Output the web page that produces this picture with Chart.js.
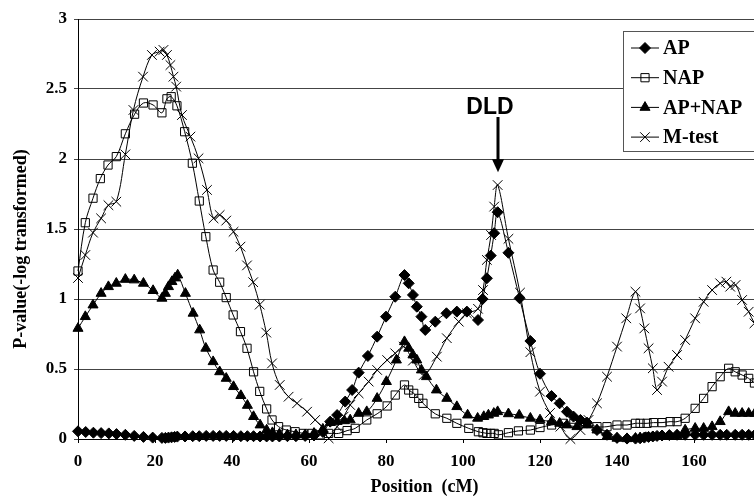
<!DOCTYPE html>
<html>
<head>
<meta charset="utf-8">
<script src="https://cdn.jsdelivr.net/npm/chart.js@4.4.0/dist/chart.umd.min.js"></script>
<style>
  html, body { margin: 0; padding: 0; background: #fff; overflow: hidden; }
  #wrap { width: 754px; height: 496px; overflow: hidden; }
  canvas { display: block; }
</style>
</head>
<body>
<div id="wrap"><canvas id="chart" width="800" height="496" style="width:800px;height:496px"></canvas></div>
<script>
// values (position in cM, -log10 p)
const apPos = [0, 2, 4, 6, 8, 10, 12.3, 14.6, 17, 19.4, 21.8, 22.7, 23.5, 24.3, 25.1, 25.8, 27.8, 29.8, 31.5, 33.3,
  35.1, 36.8, 38.5, 40.4, 42.3, 44, 45.6, 47.3, 49, 50.5, 52.3, 54.4, 56.6, 59, 61.3, 63.6, 65.5, 67.3, 69.4, 71.2,
  72.9, 75.3, 77.7, 80, 82.4, 84.8, 85.9, 87, 88, 89.2, 90.2, 92.8, 95.7, 98.4, 101, 103.9, 105.1, 106.2, 107.2, 108.1,
  109, 111.8, 114.7, 117.5, 120, 123, 125.1, 127, 128.7, 130.5, 132.2, 134.8, 137.4, 140, 142.6, 144.8, 146, 147.1,
  148.2, 149.3, 150.4, 151.7, 153.6, 155.6, 157.7, 160.3, 162.5, 164.7, 166.8, 168.5, 170.7, 172.5, 174.2, 175.8, 177.5];
const apVal = [0.055, 0.05, 0.045, 0.042, 0.04, 0.035, 0.03, 0.022, 0.015, 0.01, 0.008, 0.008, 0.01, 0.012, 0.015, 0.017, 0.018, 0.02, 0.02, 0.022,
  0.022, 0.022, 0.022, 0.022, 0.02, 0.02, 0.02, 0.018, 0.018, 0.018, 0.018, 0.02, 0.02, 0.022, 0.025, 0.05, 0.124, 0.171, 0.267, 0.35,
  0.474, 0.593, 0.731, 0.874, 1.016, 1.171, 1.112, 1.029, 0.945, 0.874, 0.779, 0.838, 0.898, 0.91, 0.91, 0.85, 1.0, 1.148, 1.31, 1.47,
  1.62, 1.33, 1.005, 0.70, 0.466, 0.307, 0.255, 0.195, 0.16, 0.136, 0.117, 0.064, 0.03, 0.008, 0.003, 0.003, 0.005, 0.01,
  0.015, 0.018, 0.022, 0.025, 0.028, 0.03, 0.03, 0.03, 0.03, 0.03, 0.03, 0.03, 0.03, 0.03, 0.03, 0.03, 0.03];

const napPos = [0, 1.9, 3.9, 5.8, 7.8, 9.95, 12.3, 14.7, 17, 19.5, 21.8, 23.1, 24.2, 25.7, 27.7, 29.7, 31.5, 33.2, 35.1, 36.8,
  38.5, 40.3, 42.2, 43.9, 45.6, 47.2, 49, 50.4, 52.1, 54.1, 56.4, 58.6, 60.8, 62.9, 65.1, 67.7, 69.9, 72, 75, 77.7,
  80.3, 82.4, 84.8, 85.9, 87.2, 88.5, 89.6, 92.8, 95.8, 98.4, 101.5, 104, 105.2, 106.2, 107.2, 108.1, 109.2, 111.8, 114.4, 117.5,
  120, 123, 126, 128.8, 131.8, 134.8, 137.4, 140, 142.6, 144.8, 146, 147.8, 149.5, 151.7, 153.8, 155.6, 157.7, 160.3, 162.5, 164.7,
  166.8, 169, 170.7, 172.5, 174.2, 175.7, 177.5, 179.5];
const napVal = [1.2, 1.545, 1.72, 1.86, 1.957, 2.017, 2.18, 2.32, 2.40, 2.386, 2.33, 2.43, 2.445, 2.38, 2.195, 1.97, 1.70, 1.445, 1.207, 1.12,
  1.01, 0.886, 0.767, 0.648, 0.48, 0.34, 0.215, 0.136, 0.088, 0.064, 0.052, 0.04, 0.04, 0.03, 0.04, 0.04, 0.06, 0.076, 0.136, 0.18,
  0.236, 0.314, 0.386, 0.35, 0.326, 0.29, 0.255, 0.18, 0.148, 0.112, 0.076, 0.052, 0.045, 0.04, 0.04, 0.04, 0.03, 0.045, 0.058, 0.064,
  0.082, 0.1, 0.112, 0.112, 0.112, 0.088, 0.088, 0.1, 0.1, 0.112, 0.112, 0.112, 0.117, 0.117, 0.124, 0.124, 0.148, 0.219, 0.29, 0.374,
  0.445, 0.505, 0.48, 0.457, 0.433, 0.40, 0.38, 0.35];

const bothPos = [0, 1.9, 3.9, 6, 7.9, 9.95, 12.3, 14.6, 17, 19.5, 21.8, 22.7, 23.5, 24.4, 25.2, 25.9, 27.9, 29.9, 31.6, 33.2,
  35.1, 36.8, 38.5, 40.4, 42.3, 44, 45.6, 47.3, 49, 50.5, 52.3, 54.4, 56.6, 59, 61.3, 63.6, 65.5, 67.3, 69.2, 70.7,
  72.9, 75, 77.7, 80.1, 82.7, 84.8, 85.9, 87, 88, 89.2, 90.5, 93.1, 95.8, 98.4, 101.2, 103.8, 105.4, 106.6, 108, 109,
  111.8, 114.6, 117.5, 120, 123, 125.1, 127, 129.6, 132.2, 134.8, 137.4, 140, 142.6, 144.8, 146, 147.5, 149.3, 151.7, 153.6, 155.6,
  157.7, 160.3, 162.5, 164.7, 166.8, 169, 170.7, 172.5, 174.2, 175.8, 177.5, 179.5];
const bothVal = [0.79, 0.874, 0.957, 1.04, 1.088, 1.112, 1.14, 1.136, 1.112, 1.06, 1.005, 1.04, 1.088, 1.124, 1.15, 1.171, 1.04, 0.898, 0.779, 0.648,
  0.552, 0.48, 0.433, 0.374, 0.31, 0.24, 0.16, 0.1, 0.064, 0.045, 0.035, 0.03, 0.03, 0.03, 0.04, 0.07, 0.117, 0.125, 0.13, 0.136,
  0.183, 0.195, 0.29, 0.41, 0.564, 0.695, 0.648, 0.6, 0.564, 0.493, 0.445, 0.35, 0.29, 0.231, 0.171, 0.148, 0.16, 0.171, 0.183, 0.195,
  0.18, 0.17, 0.148, 0.136, 0.124, 0.112, 0.1, 0.088, 0.1, 0.064, 0.017, 0.005, 0.002, 0.005, 0.008, 0.01, 0.015, 0.02, 0.02, 0.025,
  0.064, 0.076, 0.076, 0.088, 0.124, 0.195, 0.183, 0.183, 0.183, 0.183, 0.18, 0.18];

const mPos = [0, 1.9, 3.9, 6, 7.9, 9.95, 12.3, 14.4, 16.9, 19.2, 21.2, 22.2, 23.1, 24, 24.8, 25.5, 27, 29.2, 31.3, 33.5,
  35.2, 36.8, 38.5, 40.4, 42.2, 43.9, 45.5, 47.2, 48.9, 50.4, 52.4, 54.7, 56.9, 59.5, 61.6, 63.8, 65.1, 67.3, 69, 70.7,
  72.9, 75.5, 77.7, 80.3, 82.4, 84.6, 87, 89.8, 93.2, 95.8, 98.9, 101, 103.9, 105.2, 106.2, 107.3, 108.1, 109, 111.8, 114.8,
  117.5, 120, 122.6, 125.3, 127.9, 130.5, 132.6, 134.8, 137.4, 140, 142.4, 144.8, 146, 147.1, 148.2, 149.3, 150.4, 151.7, 153.4, 155.6,
  157.7, 160.3, 162.5, 164.7, 166.8, 168.4, 169.4, 170.8, 172.5, 174.2, 175.7, 177.5, 179.5];
const mVal = [1.15, 1.314, 1.474, 1.576, 1.67, 1.695, 2.033, 2.35, 2.588, 2.743, 2.767, 2.779, 2.743, 2.671, 2.588, 2.517, 2.314, 2.16, 2.005, 1.779,
  1.576, 1.60, 1.56, 1.48, 1.374, 1.24, 1.12, 0.96, 0.76, 0.54, 0.386, 0.302, 0.255, 0.195, 0.136, 0.076, 0.005, 0.088, 0.16, 0.243,
  0.326, 0.41, 0.493, 0.564, 0.612, 0.66, 0.56, 0.457, 0.588, 0.72, 0.838, 0.898, 0.93, 1.064, 1.279, 1.457, 1.66, 1.814, 1.43, 1.045,
  0.62, 0.338, 0.186, 0.088, 0.0, 0.064, 0.136, 0.255, 0.445, 0.66, 0.862, 1.052, 0.933, 0.79, 0.648, 0.505, 0.35, 0.41, 0.516, 0.6,
  0.707, 0.862, 0.98, 1.064, 1.112, 1.124, 1.088, 1.10, 0.993, 0.909, 0.826, 0.75, 0.7];

const seriesNames = ['AP', 'NAP', 'AP+NAP', 'M-test'];
const xTicks = [0, 20, 40, 60, 80, 100, 120, 140, 160, 180];
const dldPos = 109;

const serif = '"Liberation Serif", "Times New Roman", serif';

function toPoints(pos, val) {
    return pos.map((x, i) => ({ x: x, y: val[i] }));
}

function series(label, pos, val, style, radius, fill) {
    return {
        label: label,
        data: toPoints(pos, val),
        showLine: true,
        borderColor: '#000',
        borderWidth: 1,
        tension: 0.35,
        pointStyle: style,
        pointRadius: radius,
        pointBorderColor: '#000',
        pointBorderWidth: 1,
        pointBackgroundColor: fill,
        clip: false
    };
}

// legend box, DLD marker and the rotated y title
const extras = {
    id: 'extras',
    afterDatasetsDraw(chart) {
        const ctx = chart.ctx;
        const xs = chart.scales.x, ys = chart.scales.y;
        ctx.save();

        // DLD arrow
        const ax = Math.round(xs.getPixelForValue(dldPos));
        const top = ys.getPixelForValue(2.3);
        const tip = ys.getPixelForValue(1.905);
        ctx.fillStyle = '#000';
        ctx.fillRect(ax - 1.5, top, 3, tip - top - 12);
        ctx.beginPath();
        ctx.moveTo(ax - 6, tip - 13);
        ctx.lineTo(ax + 6, tip - 13);
        ctx.lineTo(ax, tip);
        ctx.closePath();
        ctx.fill();
        ctx.font = 'bold 23px "Liberation Sans", Arial, sans-serif';
        ctx.textAlign = 'center';
        ctx.textBaseline = 'middle';
        ctx.fillText('DLD', ax - 8, ys.getPixelForValue(2.37));

        // legend
        ctx.fillStyle = '#fff';
        ctx.strokeStyle = '#555';
        ctx.lineWidth = 1;
        ctx.fillRect(623.5, 31.5, 150, 120);
        ctx.strokeRect(623.5, 31.5, 150, 120);
        ctx.textAlign = 'left';
        ctx.font = 'bold 20px ' + serif;
        chart.data.datasets.forEach((ds, i) => {
            const y = 48 + i * 29.7;
            ctx.strokeStyle = '#000';
            ctx.beginPath();
            ctx.moveTo(631, y);
            ctx.lineTo(659, y);
            ctx.stroke();
            ctx.fillStyle = ds.pointBackgroundColor;
            Chart.helpers.drawPoint(ctx, { pointStyle: ds.pointStyle, radius: ds.pointRadius, rotation: 0, borderWidth: 1 }, 645, y);
            ctx.fillStyle = '#000';
            ctx.fillText(ds.label, 663, y + 1);
        });

        // y axis title
        ctx.translate(21, 249);
        ctx.rotate(-Math.PI / 2);
        ctx.textAlign = 'center';
        ctx.font = 'bold 18px ' + serif;
        ctx.fillText('P-value(-log transformed)', 0, 0);
        ctx.restore();
    }
};

new Chart(document.getElementById('chart'), {
    type: 'scatter',
    data: {
        datasets: [
            series(seriesNames[0], apPos, apVal, 'rectRot', 5.5, '#000'),
            series(seriesNames[1], napPos, napVal, 'rect', 5.8, 'rgba(0,0,0,0)'),
            series(seriesNames[2], bothPos, bothVal, 'triangle', 5.8, '#000'),
            series(seriesNames[3], mPos, mVal, 'crossRot', 6.8, 'rgba(0,0,0,0)')
        ]
    },
    options: {
        responsive: false,
        animation: false,
        events: [],
        layout: { padding: { top: 19, right: 29, left: 0, bottom: 0 } },
        plugins: { legend: { display: false }, tooltip: { enabled: false } },
        scales: {
            x: {
                type: 'linear',
                min: 0,
                max: 180,
                afterBuildTicks: (scale) => { scale.ticks = xTicks.map(v => ({ value: v })); },
                afterFit: (scale) => { scale.height = 57; },
                grid: { drawOnChartArea: false, drawTicks: true, tickLength: 4, color: '#000' },
                border: { color: '#000', width: 1 },
                ticks: { color: '#000', padding: 8, font: { family: serif, size: 17, weight: 'bold' } },
                title: {
                    display: true,
                    text: 'Position  (cM)',
                    color: '#000',
                    padding: { top: 0, bottom: 0 },
                    font: { family: serif, size: 18, weight: 'bold', lineHeight: 1 }
                }
            },
            y: {
                min: 0,
                max: 3,
                afterFit: (scale) => { scale.width = 78; },
                grid: { color: '#444', tickLength: 4 },
                border: { color: '#000', width: 1 },
                ticks: {
                    stepSize: 0.5,
                    color: '#000',
                    padding: 7,
                    font: { family: serif, size: 17, weight: 'bold' },
                    callback: (v) => String(v)
                }
            }
        }
    },
    plugins: [extras]
});
</script>
</body>
</html>
